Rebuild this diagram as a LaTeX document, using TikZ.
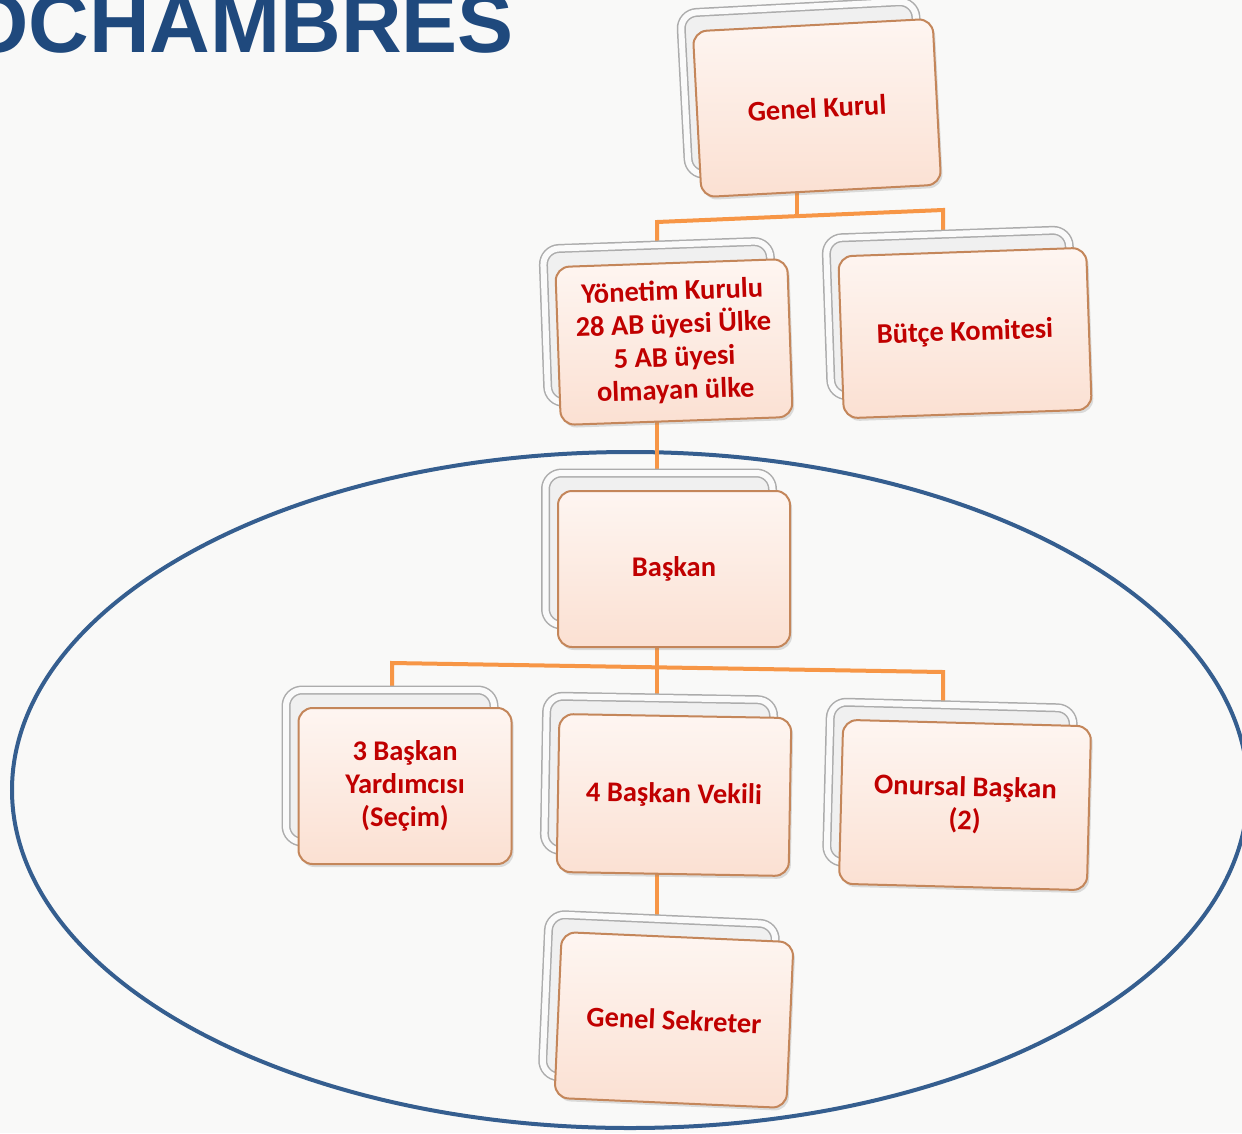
\documentclass[tikz,border=0pt]{standalone}
\usepackage{fontspec}
\setmainfont{Carlito}
\newfontfamily\titlefont{Liberation Sans}
\usetikzlibrary{shadows}
\definecolor{bgc}{HTML}{F9F9F8}
\definecolor{titleblue}{HTML}{1F497D}
\definecolor{ellblue}{HTML}{355E8F}
\definecolor{conn}{HTML}{F79646}
\definecolor{boxborder}{HTML}{C4865A}
\definecolor{boxpink}{HTML}{FBE0D2}
\definecolor{txtred}{HTML}{C00000}
\newcommand\orgbox[7]{%
  \node[backbox, minimum width={#4pt-5pt}, minimum height={#5pt-4pt}, rotate=#6] (#1-back) at (#2-15,#3-20) {};
  \node[frontbox, minimum width=#4pt, minimum height=#5pt, rotate=#6] (#1) at (#2,#3) {#7};
}
\begin{document}
\begin{tikzpicture}[x=1pt,y=-1pt,
  frontbox/.style={draw=boxborder, line width=2pt, rounded corners=14pt,
    top color=white!70!boxpink, bottom color=boxpink, text=txtred,
    font=\fontsize{28.5}{33}\selectfont\bfseries, align=center, inner sep=3pt,
    drop shadow={shadow xshift=2pt, shadow yshift=-3pt, opacity=0.25}},
  backbox/.style={draw=gray!65, double=white!96!gray, double distance=6pt,
    line width=1.5pt, fill=gray!12, rounded corners=16pt,
    drop shadow={shadow xshift=3pt, shadow yshift=-2pt, opacity=0.35}},
  link/.style={draw=conn, line width=4pt, line join=miter}]
\fill[bgc] (0,0) rectangle (1242,1133);
\clip (0,0) rectangle (1242,1133);
\node[anchor=base east, inner sep=0pt, text=titleblue,
  font=\titlefont\bfseries\fontsize{84}{84}\selectfont] (title) at (514,52) {EUROCHAMBRES};
\draw[ellblue, line width=4pt] (630,790) ellipse [x radius=618pt, y radius=338pt];
% connectors
\coordinate (gk-o) at (797,170);
\coordinate (j1) at (797,216);
\coordinate (j1l) at (657,222);
\coordinate (j1r) at (943,210);
\coordinate (yk-i) at (657,280);
\coordinate (bk-i) at (943,270);
\coordinate (yk-o) at (657,400);
\coordinate (bs-i) at (657,510);
\coordinate (bs-o) at (657,620);
\coordinate (j2) at (657,668);
\coordinate (j2l) at (392,663);
\coordinate (j2r) at (943,672);
\coordinate (by-i) at (392,730);
\coordinate (bv-i) at (657,730);
\coordinate (ob-i) at (943,740);
\coordinate (bv-o) at (657,850);
\coordinate (gs-i) at (657,970);
\draw[link] (gk-o) -- (j1);
\draw[link] (yk-i) -- (j1l) -- (j1r) -- (bk-i);
\draw[link] (yk-o) -- (bs-i);
\draw[link] (bs-o) -- (j2);
\draw[link] (by-i) -- (j2l) -- (j2r) -- (ob-i);
\draw[link] (j2) -- (bv-i);
\draw[link] (bv-o) -- (gs-i);
% boxes
\orgbox{GK}{817}{108}{240}{166}{3}{Genel Kurul}
\orgbox{YK}{674}{342}{232}{158}{2}{Yönetim Kurulu\\28 AB üyesi Ülke\\5 AB üyesi\\olmayan ülke}
\orgbox{BK}{965}{333}{248}{162}{2}{Bütçe Komitesi}
\orgbox{BS}{674}{569}{232}{156}{0}{Başkan}
\orgbox{BY}{405}{786}{213}{156}{0}{3 Başkan\\Yardımcısı\\(Seçim)}
\orgbox{BV}{674}{795}{232}{158}{-1}{4 Başkan Vekili}
\orgbox{OB}{965}{805}{248}{164}{-1.5}{Onursal Başkan\\(2)}
\orgbox{GS}{674}{1020}{232}{166}{-2.5}{Genel Sekreter}
\end{tikzpicture}
\end{document}
